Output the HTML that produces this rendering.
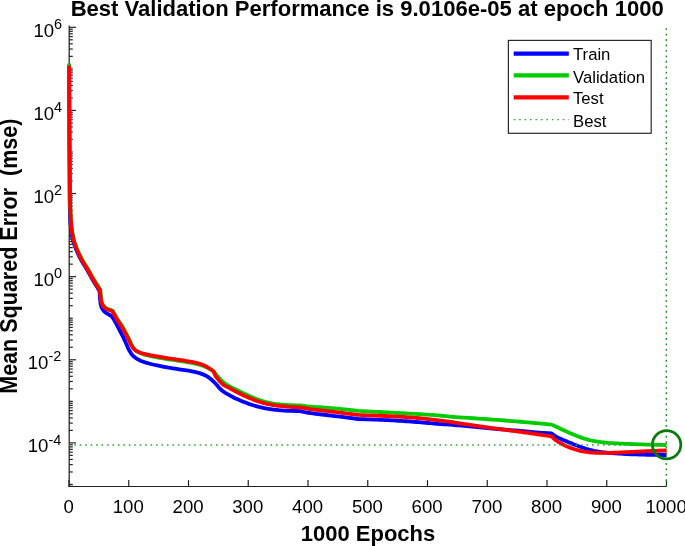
<!DOCTYPE html><html><head><meta charset="utf-8"><style>html,body{margin:0;padding:0;background:#fff}svg{display:block;will-change:transform}text{font-family:"Liberation Sans",sans-serif;fill:#000}</style></head><body>
<svg width="685" height="546" viewBox="0 0 685 546">
<rect width="685" height="546" fill="#fff"/>
<text x="367.2" y="16.2" font-size="22.05" font-weight="bold" text-anchor="middle">Best Validation Performance is 9.0106e-05 at epoch 1000</text>
<text x="368" y="541.1" font-size="22" font-weight="bold" text-anchor="middle">1000 Epochs</text>
<text transform="translate(16.8,256.2) rotate(-90) scale(0.979,1.05)" font-size="22" font-weight="bold" text-anchor="middle" xml:space="preserve">Mean Squared Error  (mse)</text>
<g stroke="#222" stroke-width="1.2" fill="none" shape-rendering="auto">
<line x1="69.2" y1="25.4" x2="69.2" y2="486.9" stroke-width="1.25"/>
<line x1="68.6" y1="486.4" x2="667.0" y2="486.4" stroke-width="1.05"/>
<line x1="69.00" y1="486.4" x2="69.00" y2="480.1"/>
<line x1="128.75" y1="486.4" x2="128.75" y2="480.1"/>
<line x1="188.50" y1="486.4" x2="188.50" y2="480.1"/>
<line x1="248.25" y1="486.4" x2="248.25" y2="480.1"/>
<line x1="308.00" y1="486.4" x2="308.00" y2="480.1"/>
<line x1="367.75" y1="486.4" x2="367.75" y2="480.1"/>
<line x1="427.50" y1="486.4" x2="427.50" y2="480.1"/>
<line x1="487.25" y1="486.4" x2="487.25" y2="480.1"/>
<line x1="547.00" y1="486.4" x2="547.00" y2="480.1"/>
<line x1="606.75" y1="486.4" x2="606.75" y2="480.1"/>
<line x1="666.50" y1="486.4" x2="666.50" y2="480.1"/>
<line x1="69.2" y1="484.46" x2="72.8" y2="484.46"/>
<line x1="69.2" y1="442.90" x2="76.0" y2="442.90"/>
<line x1="69.2" y1="401.34" x2="72.8" y2="401.34"/>
<line x1="69.2" y1="359.78" x2="76.0" y2="359.78"/>
<line x1="69.2" y1="318.22" x2="72.8" y2="318.22"/>
<line x1="69.2" y1="276.66" x2="76.0" y2="276.66"/>
<line x1="69.2" y1="235.10" x2="72.8" y2="235.10"/>
<line x1="69.2" y1="193.54" x2="76.0" y2="193.54"/>
<line x1="69.2" y1="151.98" x2="72.8" y2="151.98"/>
<line x1="69.2" y1="110.42" x2="76.0" y2="110.42"/>
<line x1="69.2" y1="68.86" x2="72.8" y2="68.86"/>
<line x1="69.2" y1="27.30" x2="76.0" y2="27.30"/>
<line x1="69.2" y1="486.36" x2="72.8" y2="486.36"/>
<line x1="69.2" y1="471.95" x2="72.8" y2="471.95"/>
<line x1="69.2" y1="464.63" x2="72.8" y2="464.63"/>
<line x1="69.2" y1="459.44" x2="72.8" y2="459.44"/>
<line x1="69.2" y1="455.41" x2="72.8" y2="455.41"/>
<line x1="69.2" y1="452.12" x2="72.8" y2="452.12"/>
<line x1="69.2" y1="449.34" x2="72.8" y2="449.34"/>
<line x1="69.2" y1="446.93" x2="72.8" y2="446.93"/>
<line x1="69.2" y1="444.80" x2="72.8" y2="444.80"/>
<line x1="69.2" y1="430.39" x2="72.8" y2="430.39"/>
<line x1="69.2" y1="423.07" x2="72.8" y2="423.07"/>
<line x1="69.2" y1="417.88" x2="72.8" y2="417.88"/>
<line x1="69.2" y1="413.85" x2="72.8" y2="413.85"/>
<line x1="69.2" y1="410.56" x2="72.8" y2="410.56"/>
<line x1="69.2" y1="407.78" x2="72.8" y2="407.78"/>
<line x1="69.2" y1="405.37" x2="72.8" y2="405.37"/>
<line x1="69.2" y1="403.24" x2="72.8" y2="403.24"/>
<line x1="69.2" y1="388.83" x2="72.8" y2="388.83"/>
<line x1="69.2" y1="381.51" x2="72.8" y2="381.51"/>
<line x1="69.2" y1="376.32" x2="72.8" y2="376.32"/>
<line x1="69.2" y1="372.29" x2="72.8" y2="372.29"/>
<line x1="69.2" y1="369.00" x2="72.8" y2="369.00"/>
<line x1="69.2" y1="366.22" x2="72.8" y2="366.22"/>
<line x1="69.2" y1="363.81" x2="72.8" y2="363.81"/>
<line x1="69.2" y1="361.68" x2="72.8" y2="361.68"/>
<line x1="69.2" y1="347.27" x2="72.8" y2="347.27"/>
<line x1="69.2" y1="339.95" x2="72.8" y2="339.95"/>
<line x1="69.2" y1="334.76" x2="72.8" y2="334.76"/>
<line x1="69.2" y1="330.73" x2="72.8" y2="330.73"/>
<line x1="69.2" y1="327.44" x2="72.8" y2="327.44"/>
<line x1="69.2" y1="324.66" x2="72.8" y2="324.66"/>
<line x1="69.2" y1="322.25" x2="72.8" y2="322.25"/>
<line x1="69.2" y1="320.12" x2="72.8" y2="320.12"/>
<line x1="69.2" y1="305.71" x2="72.8" y2="305.71"/>
<line x1="69.2" y1="298.39" x2="72.8" y2="298.39"/>
<line x1="69.2" y1="293.20" x2="72.8" y2="293.20"/>
<line x1="69.2" y1="289.17" x2="72.8" y2="289.17"/>
<line x1="69.2" y1="285.88" x2="72.8" y2="285.88"/>
<line x1="69.2" y1="283.10" x2="72.8" y2="283.10"/>
<line x1="69.2" y1="280.69" x2="72.8" y2="280.69"/>
<line x1="69.2" y1="278.56" x2="72.8" y2="278.56"/>
<line x1="69.2" y1="264.15" x2="72.8" y2="264.15"/>
<line x1="69.2" y1="256.83" x2="72.8" y2="256.83"/>
<line x1="69.2" y1="251.64" x2="72.8" y2="251.64"/>
<line x1="69.2" y1="247.61" x2="72.8" y2="247.61"/>
<line x1="69.2" y1="244.32" x2="72.8" y2="244.32"/>
<line x1="69.2" y1="241.54" x2="72.8" y2="241.54"/>
<line x1="69.2" y1="239.13" x2="72.8" y2="239.13"/>
<line x1="69.2" y1="237.00" x2="72.8" y2="237.00"/>
<line x1="69.2" y1="222.59" x2="72.8" y2="222.59"/>
<line x1="69.2" y1="215.27" x2="72.8" y2="215.27"/>
<line x1="69.2" y1="210.08" x2="72.8" y2="210.08"/>
<line x1="69.2" y1="206.05" x2="72.8" y2="206.05"/>
<line x1="69.2" y1="202.76" x2="72.8" y2="202.76"/>
<line x1="69.2" y1="199.98" x2="72.8" y2="199.98"/>
<line x1="69.2" y1="197.57" x2="72.8" y2="197.57"/>
<line x1="69.2" y1="195.44" x2="72.8" y2="195.44"/>
<line x1="69.2" y1="181.03" x2="72.8" y2="181.03"/>
<line x1="69.2" y1="173.71" x2="72.8" y2="173.71"/>
<line x1="69.2" y1="168.52" x2="72.8" y2="168.52"/>
<line x1="69.2" y1="164.49" x2="72.8" y2="164.49"/>
<line x1="69.2" y1="161.20" x2="72.8" y2="161.20"/>
<line x1="69.2" y1="158.42" x2="72.8" y2="158.42"/>
<line x1="69.2" y1="156.01" x2="72.8" y2="156.01"/>
<line x1="69.2" y1="153.88" x2="72.8" y2="153.88"/>
<line x1="69.2" y1="139.47" x2="72.8" y2="139.47"/>
<line x1="69.2" y1="132.15" x2="72.8" y2="132.15"/>
<line x1="69.2" y1="126.96" x2="72.8" y2="126.96"/>
<line x1="69.2" y1="122.93" x2="72.8" y2="122.93"/>
<line x1="69.2" y1="119.64" x2="72.8" y2="119.64"/>
<line x1="69.2" y1="116.86" x2="72.8" y2="116.86"/>
<line x1="69.2" y1="114.45" x2="72.8" y2="114.45"/>
<line x1="69.2" y1="112.32" x2="72.8" y2="112.32"/>
<line x1="69.2" y1="97.91" x2="72.8" y2="97.91"/>
<line x1="69.2" y1="90.59" x2="72.8" y2="90.59"/>
<line x1="69.2" y1="85.40" x2="72.8" y2="85.40"/>
<line x1="69.2" y1="81.37" x2="72.8" y2="81.37"/>
<line x1="69.2" y1="78.08" x2="72.8" y2="78.08"/>
<line x1="69.2" y1="75.30" x2="72.8" y2="75.30"/>
<line x1="69.2" y1="72.89" x2="72.8" y2="72.89"/>
<line x1="69.2" y1="70.76" x2="72.8" y2="70.76"/>
<line x1="69.2" y1="56.35" x2="72.8" y2="56.35"/>
<line x1="69.2" y1="49.03" x2="72.8" y2="49.03"/>
<line x1="69.2" y1="43.84" x2="72.8" y2="43.84"/>
<line x1="69.2" y1="39.81" x2="72.8" y2="39.81"/>
<line x1="69.2" y1="36.52" x2="72.8" y2="36.52"/>
<line x1="69.2" y1="33.74" x2="72.8" y2="33.74"/>
<line x1="69.2" y1="31.33" x2="72.8" y2="31.33"/>
<line x1="69.2" y1="29.20" x2="72.8" y2="29.20"/>
</g>
<text x="68.6" y="513" font-size="18.6" text-anchor="middle">0</text>
<text x="128.3" y="513" font-size="18.6" text-anchor="middle">100</text>
<text x="188.1" y="513" font-size="18.6" text-anchor="middle">200</text>
<text x="247.8" y="513" font-size="18.6" text-anchor="middle">300</text>
<text x="307.6" y="513" font-size="18.6" text-anchor="middle">400</text>
<text x="367.4" y="513" font-size="18.6" text-anchor="middle">500</text>
<text x="427.1" y="513" font-size="18.6" text-anchor="middle">600</text>
<text x="486.9" y="513" font-size="18.6" text-anchor="middle">700</text>
<text x="546.6" y="513" font-size="18.6" text-anchor="middle">800</text>
<text x="606.4" y="513" font-size="18.6" text-anchor="middle">900</text>
<text x="666.1" y="513" font-size="18.6" text-anchor="middle">1000</text>
<text x="61.3" y="452.3" font-size="18.6" text-anchor="end">10<tspan font-size="14.5" dy="-7.8">-4</tspan></text>
<text x="61.3" y="369.2" font-size="18.6" text-anchor="end">10<tspan font-size="14.5" dy="-7.8">-2</tspan></text>
<text x="62.2" y="286.1" font-size="18.6" text-anchor="end">10<tspan font-size="14.5" dy="-7.8">0</tspan></text>
<text x="62.2" y="202.9" font-size="18.6" text-anchor="end">10<tspan font-size="14.5" dy="-7.8">2</tspan></text>
<text x="62.2" y="119.8" font-size="18.6" text-anchor="end">10<tspan font-size="14.5" dy="-7.8">4</tspan></text>
<text x="62.2" y="36.7" font-size="18.6" text-anchor="end">10<tspan font-size="14.5" dy="-7.8">6</tspan></text>
<polyline points="69.10,66.00 69.14,88.78 69.17,100.53 69.19,108.84 69.21,116.25 69.24,122.75 69.27,129.19 69.30,135.56 69.33,141.88 69.37,148.12 69.40,154.06 69.43,159.69 69.46,165.00 69.49,170.00 69.51,174.69 69.53,179.06 69.54,183.12 69.56,186.88 69.57,190.39 69.60,193.66 69.62,196.69 69.65,199.48 69.69,202.04 69.73,204.35 69.78,206.43 69.82,208.27 69.88,210.10 69.94,211.94 70.01,213.77 70.09,215.60 70.17,217.43 70.26,219.26 70.35,221.09 70.45,222.91 70.58,224.74 70.75,226.57 70.95,228.40 71.18,230.23 71.44,232.06 71.74,233.90 72.07,235.73 72.43,237.57 72.85,239.41 73.33,241.25 73.87,243.10 74.46,244.95 75.11,246.80 75.82,248.66 76.59,250.52 77.41,252.38 78.24,254.17 79.06,255.89 79.88,257.54 80.70,259.11 81.51,260.62 82.33,262.05 83.14,263.41 83.96,264.69 84.75,265.98 85.53,267.26 86.30,268.54 87.05,269.81 87.78,271.08 88.50,272.35 89.21,273.62 89.89,274.88 90.61,276.17 91.35,277.48 92.12,278.82 92.91,280.18 93.84,281.75 94.91,283.53 96.46,286.06 99.50,291.00 99.92,297.12 100.17,300.15 100.39,302.13 100.62,303.75 100.88,305.00 101.16,306.11 101.47,307.08 101.81,307.91 102.19,308.59 102.58,309.24 102.98,309.85 103.41,310.41 103.84,310.94 104.30,311.42 104.77,311.87 105.25,312.27 105.75,312.63 106.25,312.98 106.76,313.33 107.28,313.66 107.80,313.99 108.39,314.34 109.05,314.72 109.99,315.23 111.80,316.20 113.02,318.14 113.69,319.22 114.21,320.10 114.72,320.97 115.21,321.85 115.74,322.81 116.30,323.85 116.89,324.96 117.51,326.14 118.14,327.35 118.78,328.56 119.42,329.79 120.06,331.03 120.71,332.29 121.36,333.56 122.02,334.85 122.68,336.15 123.33,337.45 123.96,338.76 124.58,340.07 125.19,341.38 125.78,342.70 126.36,344.02 126.92,345.34 127.47,346.66 128.04,347.92 128.61,349.13 129.20,350.26 129.80,351.34 130.41,352.35 131.04,353.30 131.67,354.19 132.33,355.01 133.06,355.81 133.88,356.58 134.78,357.33 135.77,358.05 136.84,358.74 138.00,359.40 139.24,360.04 140.56,360.66 142.00,361.25 143.54,361.83 145.19,362.40 146.96,362.95 148.83,363.48 150.81,364.00 152.90,364.51 155.10,364.99 157.30,365.46 159.50,365.92 161.70,366.35 163.90,366.77 166.10,367.17 168.30,367.56 170.50,367.92 172.70,368.28 174.85,368.61 176.94,368.94 178.97,369.26 180.95,369.57 182.88,369.86 184.75,370.15 186.57,370.42 188.33,370.68 190.05,370.97 191.73,371.28 193.37,371.61 194.98,371.97 196.53,372.35 198.05,372.75 199.53,373.18 200.97,373.62 202.36,374.12 203.70,374.67 204.99,375.27 206.23,375.92 207.43,376.62 208.58,377.37 209.67,378.17 210.73,379.03 211.75,379.90 212.76,380.81 213.75,381.75 214.72,382.72 215.67,383.72 216.60,384.75 217.51,385.81 218.39,386.89 219.30,387.92 220.22,388.88 221.16,389.77 222.12,390.60 223.09,391.37 224.08,392.07 225.09,392.71 226.11,393.29 227.10,393.84 228.04,394.37 228.93,394.87 229.79,395.35 230.60,395.81 231.38,396.25 232.11,396.66 232.79,397.04 233.62,397.47 234.57,397.95 235.66,398.46 236.89,399.02 238.25,399.61 239.74,400.25 241.37,400.94 243.13,401.66 244.87,402.35 246.57,403.00 248.25,403.62 249.90,404.20 251.52,404.75 253.12,405.26 254.68,405.73 256.22,406.17 257.76,406.58 259.29,406.98 260.83,407.35 262.37,407.70 263.91,408.03 265.44,408.33 266.98,408.62 268.52,408.88 270.08,409.13 271.68,409.36 273.30,409.58 274.95,409.78 276.63,409.96 278.33,410.13 280.07,410.28 281.83,410.42 283.57,410.54 285.27,410.65 286.95,410.75 288.60,410.83 290.41,410.90 292.39,410.96 295.11,411.02 300.30,411.10 303.25,411.82 305.07,412.21 306.74,412.52 308.59,412.82 310.61,413.11 312.93,413.42 315.52,413.76 318.41,414.11 321.59,414.49 324.76,414.87 327.94,415.25 331.12,415.63 334.30,416.02 337.88,416.46 341.87,416.95 347.44,417.65 358.20,419.00 368.11,419.38 373.21,419.58 376.79,419.72 379.95,419.85 382.70,419.97 385.40,420.09 388.06,420.21 390.67,420.34 393.23,420.46 395.79,420.60 398.35,420.74 400.91,420.89 403.47,421.06 406.02,421.23 408.57,421.41 411.12,421.60 413.68,421.80 416.18,422.00 418.63,422.20 421.04,422.40 423.41,422.60 425.72,422.80 427.99,423.00 430.21,423.20 432.39,423.40 434.45,423.58 436.41,423.75 438.26,423.90 439.99,424.03 441.62,424.14 443.14,424.24 444.55,424.32 445.85,424.38 447.31,424.47 448.92,424.58 450.70,424.71 452.63,424.87 454.72,425.05 456.96,425.25 459.37,425.48 461.93,425.73 464.49,425.98 467.05,426.23 469.61,426.48 472.17,426.73 474.72,426.98 477.27,427.23 479.82,427.48 482.38,427.73 484.93,427.97 487.48,428.20 490.03,428.43 492.58,428.65 495.13,428.86 497.67,429.06 500.22,429.26 502.78,429.44 505.33,429.64 507.88,429.84 510.43,430.05 512.99,430.27 515.55,430.50 518.11,430.73 520.67,430.98 523.23,431.23 525.78,431.47 528.30,431.70 530.82,431.92 533.31,432.13 536.09,432.36 539.15,432.59 543.42,432.91 551.60,433.50 553.75,435.06 554.92,435.87 555.83,436.45 556.72,436.97 557.58,437.43 558.50,437.89 559.47,438.36 560.51,438.82 561.59,439.28 562.74,439.77 563.94,440.27 565.19,440.80 566.51,441.35 567.87,441.92 569.30,442.52 570.78,443.13 572.32,443.77 573.86,444.39 575.39,445.00 576.93,445.59 578.47,446.16 580.01,446.72 581.54,447.27 583.08,447.79 584.62,448.31 586.15,448.79 587.69,449.24 589.22,449.67 590.75,450.06 592.28,450.42 593.81,450.76 595.34,451.06 596.86,451.34 598.42,451.60 600.01,451.84 601.63,452.07 603.29,452.28 604.98,452.48 606.70,452.66 608.46,452.83 610.24,452.97 612.13,453.12 614.11,453.27 616.19,453.42 618.36,453.56 620.63,453.70 623.00,453.84 625.47,453.98 628.03,454.12 630.74,454.25 633.58,454.36 636.57,454.47 639.70,454.56 643.44,454.65 647.78,454.73 654.11,454.83 666.60,455.00" fill="none" stroke="#0000ff" stroke-width="3.8" stroke-linejoin="round" stroke-linecap="butt"/>
<polyline points="69.10,63.60 69.23,87.39 69.29,99.63 69.34,108.24 69.39,115.88 69.43,122.52 69.48,129.07 69.53,135.53 69.57,141.88 69.62,148.12 69.67,154.06 69.72,159.69 69.76,165.00 69.79,170.00 69.83,174.69 69.86,179.06 69.89,183.12 69.91,186.88 69.94,190.39 69.98,193.66 70.03,196.69 70.08,199.48 70.13,202.04 70.19,204.35 70.26,206.43 70.34,208.27 70.42,210.10 70.51,211.94 70.60,213.77 70.70,215.60 70.81,217.43 70.92,219.26 71.04,221.09 71.16,222.91 71.32,224.74 71.52,226.57 71.74,228.40 72.01,230.23 72.30,232.06 72.63,233.90 73.00,235.73 73.40,237.57 73.85,239.40 74.35,241.23 74.91,243.06 75.52,244.89 76.17,246.71 76.88,248.53 77.64,250.34 78.46,252.16 79.27,253.90 80.09,255.58 80.90,257.18 81.72,258.72 82.54,260.19 83.36,261.59 84.19,262.92 85.01,264.18 85.82,265.44 86.61,266.70 87.38,267.96 88.13,269.22 88.86,270.47 89.57,271.72 90.26,272.98 90.94,274.23 91.64,275.49 92.37,276.78 93.12,278.08 93.90,279.40 94.82,280.91 95.88,282.61 97.40,285.02 100.40,289.70 100.65,292.65 100.79,294.18 100.90,295.27 101.00,296.25 101.10,297.12 101.21,297.99 101.32,298.85 101.44,299.72 101.56,300.58 101.72,301.40 101.92,302.19 102.14,302.93 102.41,303.64 102.70,304.31 103.03,304.94 103.40,305.52 103.80,306.08 104.27,306.60 104.80,307.10 105.40,307.57 106.07,308.02 106.92,308.49 107.96,308.98 109.54,309.62 112.70,310.80 114.81,314.51 115.89,316.39 116.64,317.67 117.30,318.76 117.87,319.67 118.43,320.52 118.97,321.33 119.49,322.09 120.01,322.81 120.56,323.62 121.16,324.55 121.80,325.58 122.48,326.72 123.20,327.96 123.97,329.31 124.77,330.77 125.62,332.33 126.43,333.84 127.19,335.29 127.90,336.69 128.57,338.03 129.20,339.32 129.77,340.56 130.31,341.74 130.79,342.86 131.28,343.92 131.78,344.92 132.28,345.84 132.78,346.71 133.28,347.50 133.78,348.23 134.29,348.90 134.81,349.50 135.39,350.08 136.04,350.63 136.77,351.17 137.56,351.68 138.42,352.17 139.36,352.64 140.36,353.09 141.44,353.51 142.65,353.94 144.01,354.37 145.51,354.80 147.14,355.23 148.92,355.66 150.84,356.10 152.90,356.53 155.10,356.97 157.30,357.39 159.50,357.80 161.70,358.19 163.90,358.56 166.10,358.92 168.30,359.27 170.50,359.59 172.70,359.91 174.85,360.22 176.94,360.52 178.97,360.83 180.95,361.12 182.88,361.42 184.75,361.72 186.57,362.01 188.33,362.29 190.04,362.59 191.69,362.90 193.28,363.21 194.82,363.54 196.30,363.87 197.72,364.22 199.09,364.57 200.41,364.93 201.68,365.32 202.91,365.73 204.10,366.17 205.25,366.63 206.48,367.19 207.80,367.84 209.57,368.80 212.90,370.70 214.42,372.51 215.26,373.52 215.94,374.32 216.62,375.12 217.30,375.91 218.04,376.77 218.84,377.69 219.69,378.68 220.61,379.73 221.58,380.73 222.62,381.70 223.73,382.63 224.90,383.52 226.13,384.37 227.43,385.17 228.79,385.94 230.21,386.66 231.68,387.41 233.19,388.17 234.74,388.95 236.33,389.75 237.97,390.57 239.65,391.41 241.37,392.26 243.13,393.14 244.87,393.98 246.57,394.78 248.25,395.56 249.90,396.29 251.52,397.00 253.12,397.67 254.68,398.30 256.22,398.90 257.76,399.47 259.29,400.01 260.83,400.52 262.37,401.00 263.91,401.45 265.44,401.88 266.98,402.27 268.52,402.63 270.08,402.97 271.68,403.28 273.30,403.56 274.95,403.82 276.63,404.05 278.33,404.25 280.07,404.43 281.83,404.57 283.58,404.71 285.31,404.84 287.03,404.95 288.74,405.05 290.64,405.14 292.73,405.23 295.63,405.33 301.20,405.50 304.15,405.96 305.96,406.21 307.60,406.39 309.40,406.56 311.37,406.72 313.61,406.88 316.13,407.04 318.92,407.21 321.98,407.39 325.06,407.59 328.15,407.81 331.26,408.05 334.39,408.32 337.93,408.66 341.88,409.07 347.44,409.68 358.20,410.90 368.11,411.41 373.21,411.67 376.79,411.85 379.95,412.02 382.70,412.16 385.40,412.30 388.06,412.44 390.67,412.58 393.23,412.72 395.79,412.86 398.35,412.99 400.91,413.13 403.47,413.27 406.02,413.41 408.57,413.54 411.12,413.68 413.68,413.82 416.18,413.96 418.63,414.10 421.04,414.24 423.41,414.38 425.72,414.53 427.99,414.68 430.21,414.83 432.39,414.97 434.45,415.13 436.41,415.28 438.26,415.43 439.99,415.59 441.62,415.75 443.14,415.91 444.55,416.07 445.85,416.23 447.63,416.41 449.88,416.62 452.61,416.84 455.82,417.08 459.50,417.35 463.66,417.63 468.29,417.94 473.41,418.26 478.36,418.59 483.15,418.91 487.79,419.23 492.26,419.55 496.58,419.86 500.73,420.18 504.73,420.49 508.57,420.81 512.39,421.12 516.19,421.44 519.98,421.76 523.75,422.09 527.96,422.46 532.62,422.87 539.11,423.46 551.60,424.60 557.42,427.34 560.42,428.75 562.53,429.72 564.40,430.58 566.03,431.32 567.64,432.04 569.22,432.74 570.78,433.42 572.32,434.08 573.86,434.73 575.39,435.35 576.93,435.96 578.47,436.54 580.01,437.11 581.54,437.66 583.08,438.19 584.62,438.71 586.22,439.19 587.88,439.65 589.61,440.08 591.39,440.49 593.24,440.87 595.16,441.22 597.13,441.55 599.17,441.85 601.27,442.13 603.44,442.38 605.67,442.62 607.97,442.83 610.34,443.02 612.77,443.19 615.27,443.34 617.83,443.46 620.39,443.58 622.95,443.70 625.51,443.81 628.07,443.92 630.62,444.02 633.17,444.11 635.73,444.21 638.27,444.29 640.81,444.38 643.33,444.45 645.83,444.53 648.32,444.60 651.09,444.67 654.16,444.74 658.42,444.83 666.60,445.00" fill="none" stroke="#00cc00" stroke-width="3.8" stroke-linejoin="round" stroke-linecap="butt"/>
<polyline points="69.10,65.60 69.23,88.55 69.29,100.38 69.34,108.74 69.39,116.19 69.43,122.71 69.48,129.17 69.53,135.56 69.57,141.88 69.62,148.12 69.67,154.06 69.72,159.69 69.76,165.00 69.79,170.00 69.83,174.69 69.86,179.06 69.89,183.12 69.91,186.88 69.94,190.39 69.98,193.66 70.02,196.69 70.06,199.48 70.11,202.04 70.16,204.35 70.22,206.43 70.28,208.27 70.35,210.10 70.43,211.94 70.51,213.77 70.59,215.60 70.69,217.43 70.79,219.26 70.89,221.09 71.01,222.91 71.15,224.74 71.33,226.57 71.54,228.40 71.78,230.23 72.06,232.06 72.37,233.90 72.71,235.73 73.09,237.57 73.52,239.41 74.00,241.24 74.53,243.08 75.12,244.92 75.76,246.76 76.45,248.59 77.20,250.43 78.00,252.27 78.80,254.04 79.60,255.73 80.41,257.36 81.22,258.92 82.02,260.40 82.83,261.82 83.64,263.16 84.46,264.44 85.25,265.71 86.03,266.98 86.79,268.25 87.53,269.52 88.26,270.79 88.97,272.05 89.66,273.32 90.34,274.58 91.04,275.86 91.77,277.15 92.52,278.46 93.30,279.79 94.22,281.30 95.28,283.00 96.80,285.42 99.80,290.10 100.10,292.88 100.26,294.34 100.38,295.39 100.50,296.35 100.62,297.22 100.75,298.10 100.88,298.99 101.02,299.89 101.18,300.81 101.36,301.67 101.57,302.50 101.81,303.27 102.09,304.00 102.39,304.69 102.73,305.33 103.10,305.92 103.50,306.48 103.97,307.00 104.50,307.50 105.09,307.98 105.76,308.44 106.60,308.92 107.63,309.42 109.18,310.08 112.30,311.30 114.37,315.01 115.43,316.89 116.16,318.17 116.81,319.26 117.37,320.17 117.91,321.02 118.44,321.83 118.95,322.59 119.45,323.31 119.99,324.12 120.58,325.05 121.21,326.07 121.89,327.20 122.61,328.44 123.37,329.78 124.18,331.22 125.02,332.78 125.83,334.27 126.59,335.71 127.31,337.09 127.99,338.41 128.62,339.68 129.21,340.89 129.75,342.05 130.25,343.15 130.76,344.18 131.27,345.14 131.79,346.04 132.31,346.86 132.84,347.62 133.38,348.31 133.92,348.93 134.47,349.48 135.09,350.00 135.78,350.50 136.54,350.98 137.36,351.44 138.26,351.87 139.22,352.28 140.25,352.67 141.35,353.03 142.59,353.40 143.96,353.77 145.48,354.15 147.12,354.53 148.91,354.91 150.84,355.30 152.90,355.70 155.10,356.10 157.30,356.49 159.50,356.87 161.70,357.23 163.90,357.59 166.10,357.94 168.30,358.27 170.50,358.59 172.70,358.91 174.85,359.22 176.94,359.52 178.97,359.83 180.95,360.12 182.88,360.42 184.75,360.72 186.57,361.01 188.33,361.29 190.04,361.59 191.69,361.91 193.28,362.23 194.82,362.57 196.30,362.92 197.72,363.28 199.09,363.66 200.41,364.04 201.69,364.47 202.93,364.95 204.15,365.46 205.33,366.02 206.61,366.70 207.99,367.53 209.86,368.75 213.40,371.20 215.90,376.60 218.73,379.98 220.20,381.65 221.26,382.76 222.22,383.68 223.08,384.40 223.95,385.05 224.82,385.62 225.71,386.13 226.59,386.57 227.46,387.00 228.29,387.43 229.11,387.86 229.89,388.29 230.66,388.71 231.39,389.13 232.11,389.54 232.79,389.96 233.62,390.42 234.57,390.94 235.66,391.51 236.89,392.14 238.25,392.82 239.74,393.55 241.37,394.33 243.13,395.17 244.87,395.97 246.57,396.75 248.25,397.48 249.90,398.19 251.52,398.86 253.12,399.50 254.68,400.11 256.22,400.69 257.76,401.23 259.29,401.74 260.83,402.22 262.37,402.67 263.91,403.09 265.44,403.48 266.98,403.84 268.52,404.16 270.08,404.47 271.68,404.76 273.30,405.03 274.95,405.29 276.63,405.53 278.33,405.75 280.07,405.96 281.83,406.14 283.58,406.32 285.31,406.48 287.03,406.63 288.74,406.77 290.64,406.90 292.73,407.04 295.63,407.20 301.20,407.50 304.32,408.13 306.20,408.48 307.88,408.75 309.70,409.02 311.67,409.28 313.90,409.56 316.39,409.86 319.14,410.18 322.16,410.52 325.19,410.86 328.25,411.22 331.32,411.58 334.42,411.95 337.95,412.37 341.89,412.86 347.44,413.55 358.20,414.90 368.11,415.28 373.21,415.48 376.79,415.62 379.95,415.75 382.70,415.87 385.40,415.99 388.06,416.11 390.67,416.24 393.23,416.36 395.79,416.50 398.35,416.64 400.91,416.79 403.47,416.96 406.02,417.13 408.57,417.31 411.12,417.50 413.68,417.70 416.18,417.91 418.63,418.12 421.04,418.35 423.41,418.58 425.72,418.82 427.99,419.06 430.21,419.32 432.39,419.58 434.45,419.83 436.41,420.07 438.26,420.30 439.99,420.52 441.62,420.73 443.14,420.93 444.55,421.11 445.85,421.29 447.31,421.49 448.92,421.72 450.70,421.97 452.63,422.25 454.72,422.56 456.96,422.90 459.37,423.26 461.93,423.64 464.49,424.03 467.05,424.41 469.61,424.80 472.17,425.18 474.72,425.56 477.27,425.94 479.82,426.31 482.38,426.69 484.93,427.06 487.48,427.42 490.03,427.78 492.58,428.14 495.13,428.49 497.67,428.84 500.22,429.18 502.78,429.52 505.33,429.86 507.88,430.20 510.43,430.54 512.99,430.88 515.55,431.23 518.11,431.58 520.67,431.92 523.23,432.28 525.78,432.63 528.30,432.98 530.81,433.33 533.29,433.69 536.06,434.09 539.12,434.54 543.36,435.18 551.50,436.40 553.15,438.00 554.09,438.87 554.89,439.52 555.73,440.15 556.60,440.75 557.56,441.38 558.62,442.04 559.77,442.74 561.02,443.46 562.31,444.17 563.63,444.85 564.99,445.52 566.38,446.16 567.81,446.78 569.28,447.39 570.78,447.97 572.32,448.53 573.86,449.06 575.39,449.55 576.93,450.00 578.47,450.42 580.01,450.80 581.54,451.15 583.08,451.46 584.62,451.74 586.22,451.98 587.88,452.20 589.61,452.39 591.39,452.56 593.24,452.69 595.16,452.80 597.13,452.88 599.17,452.93 601.27,452.95 603.44,452.96 605.67,452.94 607.97,452.91 610.34,452.85 612.77,452.77 615.27,452.66 617.83,452.54 620.39,452.41 622.95,452.29 625.51,452.16 628.07,452.04 630.62,451.91 633.17,451.79 635.73,451.66 638.27,451.54 640.81,451.42 643.33,451.31 645.83,451.20 648.32,451.10 651.09,451.00 654.16,450.89 658.42,450.75 666.60,450.50" fill="none" stroke="#ff0000" stroke-width="3.8" stroke-linejoin="round" stroke-linecap="butt"/>
<line x1="69.0" y1="444.95" x2="666.5" y2="444.95" stroke="#35a035" stroke-width="1.6" stroke-dasharray="1.6 3.85" stroke-dashoffset="0.15"/>
<line x1="666.30" y1="486.65" x2="666.30" y2="27.4" stroke="#259025" stroke-width="1.4" stroke-dasharray="1.9 3.535"/>
<circle cx="666.6" cy="444.75" r="14.2" fill="none" stroke="#0a780a" stroke-width="2.7"/>
<rect x="508.4" y="40.4" width="142.8" height="92.9" fill="#fff" stroke="#2a2a2a" stroke-width="1.2"/>
<line x1="513.7" y1="53.6" x2="568.8" y2="53.6" stroke="#0000ff" stroke-width="4.2"/>
<line x1="513.7" y1="75.4" x2="568.8" y2="75.4" stroke="#00cc00" stroke-width="4.2"/>
<line x1="513.7" y1="97.3" x2="568.8" y2="97.3" stroke="#ff0000" stroke-width="4.2"/>
<line x1="513.7" y1="119.6" x2="568.8" y2="119.6" stroke="#35a035" stroke-width="1.25" stroke-dasharray="1.6 3.85"/>
<text x="573.0" y="60.4" font-size="16.7">Train</text>
<text x="573.0" y="82.6" font-size="16.7">Validation</text>
<text x="573.0" y="104.3" font-size="16.7">Test</text>
<text x="573.0" y="126.6" font-size="16.7">Best</text>
</svg></body></html>
